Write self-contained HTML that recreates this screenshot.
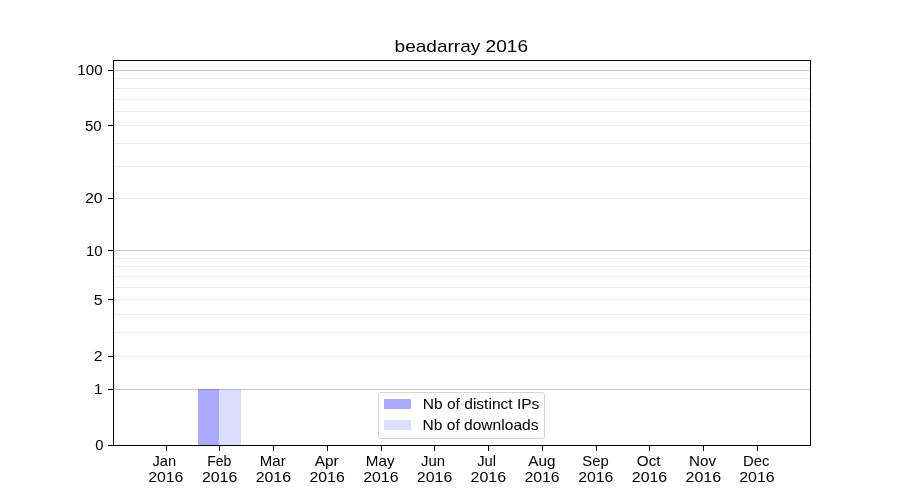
<!DOCTYPE html>
<html lang="en"><head><meta charset="utf-8"><title>beadarray 2016</title>
<style>html,body{margin:0;padding:0;background:#fff;width:900px;height:500px;overflow:hidden}svg{display:block;will-change:transform}text{font-family:"Liberation Sans",sans-serif;fill:#000}</style></head><body>
<svg width="900" height="500" viewBox="0 0 900 500">
<rect x="0" y="0" width="900" height="500" fill="#ffffff"/>
<g shape-rendering="crispEdges">
<rect x="114" y="356" width="696" height="1" fill="#eeeeee"/>
<rect x="114" y="332" width="696" height="1" fill="#eeeeee"/>
<rect x="114" y="314" width="696" height="1" fill="#eeeeee"/>
<rect x="114" y="299" width="696" height="1" fill="#eeeeee"/>
<rect x="114" y="287" width="696" height="1" fill="#eeeeee"/>
<rect x="114" y="276" width="696" height="1" fill="#eeeeee"/>
<rect x="114" y="266" width="696" height="1" fill="#eeeeee"/>
<rect x="114" y="258" width="696" height="1" fill="#eeeeee"/>
<rect x="114" y="198" width="696" height="1" fill="#eeeeee"/>
<rect x="114" y="166" width="696" height="1" fill="#eeeeee"/>
<rect x="114" y="143" width="696" height="1" fill="#eeeeee"/>
<rect x="114" y="125" width="696" height="1" fill="#eeeeee"/>
<rect x="114" y="111" width="696" height="1" fill="#eeeeee"/>
<rect x="114" y="99" width="696" height="1" fill="#eeeeee"/>
<rect x="114" y="88" width="696" height="1" fill="#eeeeee"/>
<rect x="114" y="78" width="696" height="1" fill="#eeeeee"/>
<rect x="114" y="389" width="696" height="1" fill="#cccccc"/>
<rect x="114" y="250" width="696" height="1" fill="#cccccc"/>
<rect x="114" y="70" width="696" height="1" fill="#cccccc"/>
<rect x="198" y="389" width="21" height="56" fill="#0000ff" fill-opacity="0.333"/>
<rect x="219" y="389" width="22" height="56" fill="#0000ff" fill-opacity="0.133"/>
</g>
<g shape-rendering="crispEdges" fill="#000">
<rect x="113" y="60" width="698" height="1"/>
<rect x="113" y="445" width="698" height="1"/>
<rect x="113" y="60" width="1" height="386"/>
<rect x="810" y="60" width="1" height="386"/>
<rect x="108" y="445" width="5" height="1"/>
<rect x="108" y="389" width="5" height="1"/>
<rect x="108" y="356" width="5" height="1"/>
<rect x="108" y="299" width="5" height="1"/>
<rect x="108" y="250" width="5" height="1"/>
<rect x="108" y="198" width="5" height="1"/>
<rect x="108" y="125" width="5" height="1"/>
<rect x="108" y="70" width="5" height="1"/>
<rect x="166" y="446" width="1" height="5"/>
<rect x="219" y="446" width="1" height="5"/>
<rect x="273" y="446" width="1" height="5"/>
<rect x="327" y="446" width="1" height="5"/>
<rect x="381" y="446" width="1" height="5"/>
<rect x="434" y="446" width="1" height="5"/>
<rect x="488" y="446" width="1" height="5"/>
<rect x="542" y="446" width="1" height="5"/>
<rect x="596" y="446" width="1" height="5"/>
<rect x="649" y="446" width="1" height="5"/>
<rect x="703" y="446" width="1" height="5"/>
<rect x="757" y="446" width="1" height="5"/>
</g>
<rect x="378.5" y="392.5" width="166" height="46" rx="2.5" ry="2.5" fill="#ffffff" fill-opacity="0.8" stroke="#cccccc" stroke-opacity="0.8" stroke-width="1"/>
<rect x="384" y="399" width="27" height="10" fill="#aaaaff" shape-rendering="crispEdges"/>
<rect x="384" y="420" width="27" height="10" fill="#ddddff" shape-rendering="crispEdges"/>
<text id="y0" x="103.60" y="450.00" font-size="14.2px" text-anchor="end" textLength="8.24" lengthAdjust="spacingAndGlyphs">0</text>
<text id="y1" x="102.60" y="394.00" font-size="14.2px" text-anchor="end" textLength="8.84" lengthAdjust="spacingAndGlyphs">1</text>
<text id="y2" x="102.60" y="361.00" font-size="14.2px" text-anchor="end" textLength="8.84" lengthAdjust="spacingAndGlyphs">2</text>
<text id="y5" x="102.60" y="305.00" font-size="14.2px" text-anchor="end" textLength="8.84" lengthAdjust="spacingAndGlyphs">5</text>
<text id="y10" x="102.60" y="256.00" font-size="14.2px" text-anchor="end" textLength="16.69" lengthAdjust="spacingAndGlyphs">10</text>
<text id="y20" x="102.60" y="203.00" font-size="14.2px" text-anchor="end" textLength="17.69" lengthAdjust="spacingAndGlyphs">20</text>
<text id="y50" x="101.60" y="131.00" font-size="14.2px" text-anchor="end" textLength="16.69" lengthAdjust="spacingAndGlyphs">50</text>
<text id="y100" x="102.60" y="75.00" font-size="14.2px" text-anchor="end" textLength="25.32" lengthAdjust="spacingAndGlyphs">100</text>
<text id="m0" x="164.25" y="465.50" font-size="14.2px" text-anchor="middle" textLength="23.58" lengthAdjust="spacingAndGlyphs">Jan</text>
<text id="yr0" x="165.84" y="481.50" font-size="14.2px" text-anchor="middle" textLength="35.19" lengthAdjust="spacingAndGlyphs">2016</text>
<text id="m1" x="219.29" y="465.50" font-size="14.2px" text-anchor="middle" textLength="24.13" lengthAdjust="spacingAndGlyphs">Feb</text>
<text id="yr1" x="219.58" y="481.50" font-size="14.2px" text-anchor="middle" textLength="35.31" lengthAdjust="spacingAndGlyphs">2016</text>
<text id="m2" x="272.79" y="465.50" font-size="14.2px" text-anchor="middle" textLength="25.90" lengthAdjust="spacingAndGlyphs">Mar</text>
<text id="yr2" x="273.35" y="481.50" font-size="14.2px" text-anchor="middle" textLength="35.35" lengthAdjust="spacingAndGlyphs">2016</text>
<text id="m3" x="326.77" y="465.50" font-size="14.2px" text-anchor="middle" textLength="23.84" lengthAdjust="spacingAndGlyphs">Apr</text>
<text id="yr3" x="327.09" y="481.50" font-size="14.2px" text-anchor="middle" textLength="35.28" lengthAdjust="spacingAndGlyphs">2016</text>
<text id="m4" x="380.19" y="465.50" font-size="14.2px" text-anchor="middle" textLength="28.77" lengthAdjust="spacingAndGlyphs">May</text>
<text id="yr4" x="380.85" y="481.50" font-size="14.2px" text-anchor="middle" textLength="35.26" lengthAdjust="spacingAndGlyphs">2016</text>
<text id="m5" x="433.00" y="465.50" font-size="14.2px" text-anchor="middle" textLength="23.96" lengthAdjust="spacingAndGlyphs">Jun</text>
<text id="yr5" x="434.57" y="481.50" font-size="14.2px" text-anchor="middle" textLength="35.36" lengthAdjust="spacingAndGlyphs">2016</text>
<text id="m6" x="486.61" y="465.50" font-size="14.2px" text-anchor="middle" textLength="18.83" lengthAdjust="spacingAndGlyphs">Jul</text>
<text id="yr6" x="488.34" y="481.50" font-size="14.2px" text-anchor="middle" textLength="35.61" lengthAdjust="spacingAndGlyphs">2016</text>
<text id="m7" x="541.81" y="465.50" font-size="14.2px" text-anchor="middle" textLength="27.13" lengthAdjust="spacingAndGlyphs">Aug</text>
<text id="yr7" x="542.08" y="481.50" font-size="14.2px" text-anchor="middle" textLength="35.21" lengthAdjust="spacingAndGlyphs">2016</text>
<text id="m8" x="595.53" y="465.50" font-size="14.2px" text-anchor="middle" textLength="26.38" lengthAdjust="spacingAndGlyphs">Sep</text>
<text id="yr8" x="595.81" y="481.50" font-size="14.2px" text-anchor="middle" textLength="35.12" lengthAdjust="spacingAndGlyphs">2016</text>
<text id="m9" x="648.75" y="465.50" font-size="14.2px" text-anchor="middle" textLength="23.76" lengthAdjust="spacingAndGlyphs">Oct</text>
<text id="yr9" x="649.52" y="481.50" font-size="14.2px" text-anchor="middle" textLength="35.38" lengthAdjust="spacingAndGlyphs">2016</text>
<text id="m10" x="702.49" y="465.50" font-size="14.2px" text-anchor="middle" textLength="27.01" lengthAdjust="spacingAndGlyphs">Nov</text>
<text id="yr10" x="703.32" y="481.50" font-size="14.2px" text-anchor="middle" textLength="35.61" lengthAdjust="spacingAndGlyphs">2016</text>
<text id="m11" x="756.19" y="465.50" font-size="14.2px" text-anchor="middle" textLength="26.47" lengthAdjust="spacingAndGlyphs">Dec</text>
<text id="yr11" x="756.90" y="481.50" font-size="14.2px" text-anchor="middle" textLength="35.42" lengthAdjust="spacingAndGlyphs">2016</text>
<text id="title" x="461.27" y="51.70" font-size="17.0px" text-anchor="middle" textLength="133.41" lengthAdjust="spacingAndGlyphs">beadarray 2016</text>
<text id="leg1" x="422.80" y="408.50" font-size="14.2px" text-anchor="start" textLength="116.60" lengthAdjust="spacingAndGlyphs">Nb of distinct IPs</text>
<text id="leg2" x="422.50" y="430.00" font-size="14.2px" text-anchor="start" textLength="116.00" lengthAdjust="spacingAndGlyphs">Nb of downloads</text>
</svg></body></html>
